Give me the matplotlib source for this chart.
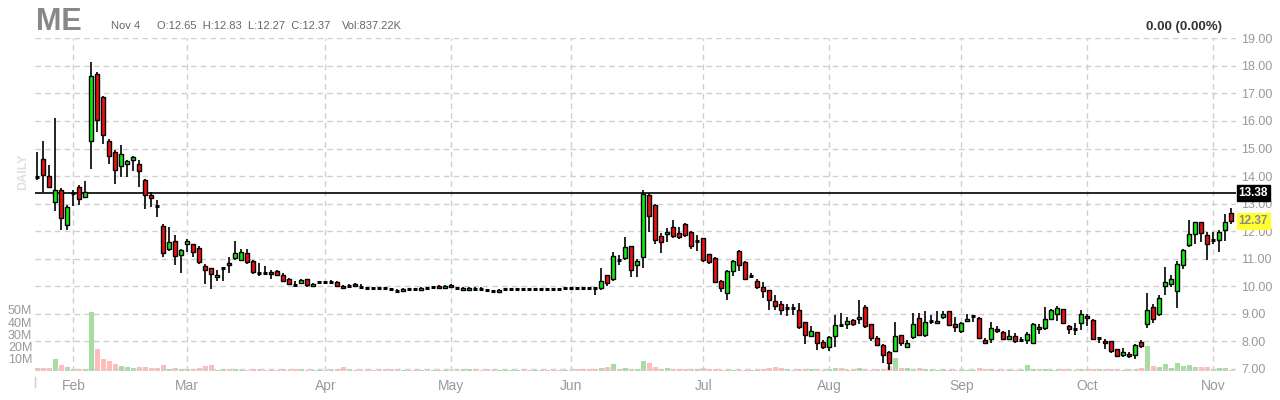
"""Daily candlestick chart for ME, Jan 22 - Nov 4 2021, with volume underlay."""
import numpy as np
import pandas as pd
import matplotlib
matplotlib.use("Agg")
import matplotlib.pyplot as plt
from matplotlib.lines import Line2D
from matplotlib.transforms import blended_transform_factory

plt.rcParams["font.family"] = ["Liberation Sans", "DejaVu Sans"]

TICKER = "ME"
HOLIDAYS = ["2021-02-15", "2021-04-02", "2021-05-31", "2021-07-05", "2021-09-06"]
DATES = pd.bdate_range("2021-01-22", "2021-11-04", freq="C", holidays=HOLIDAYS)

OPEN = [
    13.95, 14.63, 14.01, 13.07, 13.50, 12.23, 13.38, 13.61, 13.25, 15.29,
    17.71, 16.88, 15.29, 14.88, 14.38, 14.45, 14.59, 14.45, 13.87, 13.32,
    12.92, 12.20, 11.36, 11.65, 11.15, 11.54, 11.52, 11.40, 10.74, 10.67,
    10.33, 10.66, 10.85, 11.04, 10.96, 11.22, 10.93, 10.48, 10.48, 10.53,
    10.54, 10.42, 10.27, 10.03, 10.13, 10.27, 10.01, 10.15, 10.15, 10.17,
    10.16, 10.02, 10.00, 10.10, 9.99, 9.95, 9.95, 9.95, 9.93, 9.89,
    9.84, 9.84, 9.91, 9.91, 9.87, 9.94, 9.97, 10.02, 9.95, 10.06,
    9.95, 9.87, 9.87, 9.90, 9.90, 9.85, 9.82, 9.80, 9.89, 9.90,
    9.91, 9.91, 9.91, 9.92, 9.91, 9.91, 9.91, 9.91, 9.95, 9.95,
    9.95, 9.95, 9.95, 9.95, 9.95, 10.42, 10.26, 10.94, 11.04, 11.47,
    10.78, 11.07, 13.30, 12.96, 11.83, 11.91, 12.16, 11.94, 12.27, 11.98,
    11.64, 11.76, 11.18, 11.04, 10.20, 9.75, 10.56, 11.29, 10.89, 10.37,
    10.20, 9.98, 9.87, 9.48, 9.36, 9.22, 9.20, 9.15, 8.71, 8.20,
    8.35, 7.99, 7.81, 8.21, 8.60, 8.64, 8.79, 8.82, 9.26, 8.64,
    8.13, 7.88, 7.62, 7.66, 8.24, 7.81, 8.17, 8.86, 8.24, 8.73,
    8.68, 8.89, 9.09, 8.64, 8.39, 8.75, 8.93, 8.86, 8.06, 8.10,
    8.46, 8.35, 8.10, 8.20, 8.04, 8.06, 7.95, 8.53, 8.50, 8.83,
    9.00, 9.18, 8.57, 8.46, 8.68, 8.93, 8.79, 8.13, 8.02, 8.02,
    7.73, 7.52, 7.55, 7.52, 7.99, 8.64, 9.26, 9.00, 10.02, 10.09,
    9.84, 10.78, 11.51, 11.91, 12.34, 11.87, 11.67, 11.69, 12.06, 12.65,
]
HIGH = [
    14.87, 15.26, 14.41, 16.12, 13.56, 12.96, 13.48, 13.69, 13.83, 18.15,
    17.79, 16.92, 15.33, 14.96, 15.12, 14.58, 14.72, 14.59, 13.90, 13.43,
    13.14, 12.27, 12.16, 11.87, 11.36, 11.70, 11.54, 11.47, 10.82, 10.68,
    10.60, 10.70, 11.06, 11.65, 11.36, 11.36, 10.95, 10.85, 10.74, 10.58,
    10.58, 10.48, 10.31, 10.21, 10.26, 10.28, 10.12, 10.21, 10.21, 10.22,
    10.18, 10.06, 10.07, 10.11, 10.07, 9.99, 9.99, 9.99, 9.96, 9.94,
    9.90, 9.95, 9.94, 9.95, 9.99, 9.99, 10.01, 10.04, 10.06, 10.08,
    9.99, 9.97, 9.99, 9.96, 9.96, 9.89, 9.87, 9.90, 9.91, 9.93,
    9.93, 9.93, 9.93, 9.95, 9.93, 9.93, 9.93, 9.93, 9.97, 9.97,
    9.97, 9.97, 9.97, 9.99, 10.67, 10.42, 11.23, 11.14, 11.79, 11.48,
    10.98, 13.50, 13.38, 12.98, 11.94, 12.13, 12.42, 12.16, 12.31, 11.99,
    11.87, 11.77, 11.19, 11.05, 10.24, 10.60, 10.94, 11.30, 10.93, 10.49,
    10.27, 10.16, 9.88, 9.69, 9.48, 9.36, 9.37, 9.40, 8.72, 8.57,
    8.36, 8.06, 8.21, 8.97, 9.04, 8.89, 8.82, 9.51, 9.33, 8.65,
    8.21, 7.89, 7.66, 8.71, 8.25, 8.06, 9.04, 9.04, 9.11, 8.97,
    9.10, 9.11, 9.10, 8.89, 8.71, 9.00, 8.96, 8.87, 8.13, 8.71,
    8.57, 8.39, 8.42, 8.32, 8.17, 8.35, 8.68, 8.64, 9.26, 9.16,
    9.30, 9.19, 8.58, 8.68, 9.15, 9.00, 8.80, 8.17, 8.10, 8.03,
    7.74, 7.77, 7.62, 7.91, 8.06, 9.77, 9.37, 9.69, 10.71, 10.42,
    10.93, 11.34, 12.42, 12.35, 12.35, 11.98, 11.98, 12.06, 12.63, 12.83,
]
LOW = [
    13.87, 13.43, 13.55, 12.73, 12.05, 12.05, 12.90, 12.96, 13.24, 14.24,
    15.60, 15.17, 14.45, 13.72, 13.96, 13.96, 14.19, 13.61, 12.81, 12.89,
    12.51, 11.07, 11.29, 10.78, 10.49, 11.24, 11.06, 10.82, 10.09, 9.91,
    10.21, 10.21, 10.48, 10.96, 10.94, 10.82, 10.45, 10.36, 10.42, 10.28,
    10.36, 10.14, 10.03, 10.00, 10.07, 9.98, 10.00, 10.07, 10.11, 10.12,
    9.99, 9.90, 9.95, 9.99, 9.92, 9.92, 9.91, 9.91, 9.91, 9.85,
    9.78, 9.81, 9.88, 9.86, 9.85, 9.91, 9.93, 9.93, 9.93, 9.97,
    9.85, 9.85, 9.85, 9.82, 9.83, 9.79, 9.78, 9.78, 9.87, 9.88,
    9.90, 9.90, 9.90, 9.90, 9.90, 9.90, 9.90, 9.90, 9.93, 9.93,
    9.91, 9.93, 9.93, 9.68, 9.85, 10.02, 10.21, 10.76, 10.96, 10.33,
    10.33, 10.67, 11.98, 11.54, 11.22, 11.62, 11.76, 11.73, 11.80, 11.36,
    11.28, 10.90, 10.82, 10.14, 9.78, 9.51, 10.38, 10.56, 10.24, 10.31,
    9.91, 9.58, 9.15, 9.15, 8.97, 8.91, 8.96, 8.46, 7.91, 8.16,
    7.70, 7.74, 7.66, 7.81, 8.53, 8.46, 8.57, 8.64, 8.50, 8.02,
    7.84, 7.22, 6.98, 7.66, 7.84, 7.77, 8.10, 8.21, 8.17, 8.64,
    8.64, 8.83, 8.56, 8.35, 8.32, 8.71, 8.71, 8.10, 7.91, 7.95,
    8.32, 8.06, 8.06, 7.95, 7.99, 7.91, 7.95, 8.28, 8.42, 8.79,
    8.75, 8.64, 8.28, 8.24, 8.42, 8.57, 8.10, 7.95, 7.73, 7.59,
    7.48, 7.44, 7.41, 7.38, 7.77, 8.50, 8.67, 8.93, 9.69, 9.98,
    9.22, 10.64, 11.44, 11.55, 11.62, 10.96, 11.55, 11.25, 11.66, 12.27,
]
CLOSE = [
    13.95, 14.05, 13.61, 13.50, 12.49, 12.89, 13.38, 13.18, 13.42, 17.64,
    16.05, 15.50, 14.74, 14.23, 14.81, 14.56, 14.70, 14.19, 13.32, 13.21,
    12.92, 11.22, 11.62, 11.11, 11.33, 11.63, 11.24, 10.88, 10.59, 10.45,
    10.42, 10.66, 10.78, 11.22, 11.25, 10.89, 10.51, 10.48, 10.48, 10.43,
    10.42, 10.20, 10.09, 10.03, 10.24, 10.06, 10.09, 10.15, 10.15, 10.17,
    10.01, 9.93, 10.00, 10.02, 9.99, 9.95, 9.95, 9.95, 9.93, 9.89,
    9.84, 9.91, 9.91, 9.91, 9.95, 9.94, 9.97, 9.95, 10.02, 9.99,
    9.95, 9.95, 9.95, 9.90, 9.90, 9.85, 9.82, 9.87, 9.89, 9.90,
    9.91, 9.91, 9.91, 9.92, 9.91, 9.91, 9.91, 9.91, 9.95, 9.95,
    9.95, 9.95, 9.95, 9.95, 10.21, 10.13, 11.11, 10.94, 11.44, 10.60,
    10.93, 13.35, 12.56, 11.69, 11.62, 11.98, 11.83, 11.80, 11.87, 11.47,
    11.64, 10.96, 10.88, 10.15, 9.95, 10.56, 10.93, 10.78, 10.27, 10.37,
    9.98, 9.84, 9.51, 9.29, 9.15, 9.22, 9.20, 8.52, 8.24, 8.39,
    7.95, 7.81, 8.17, 8.60, 8.60, 8.75, 8.64, 8.89, 8.57, 8.13,
    7.88, 7.52, 7.22, 8.21, 7.95, 7.95, 8.64, 8.24, 8.71, 8.73,
    8.75, 8.98, 8.60, 8.53, 8.68, 8.83, 8.93, 8.13, 7.95, 8.50,
    8.39, 8.10, 8.20, 8.02, 8.04, 8.28, 8.64, 8.46, 8.83, 9.15,
    9.22, 8.68, 8.46, 8.46, 9.00, 8.86, 8.10, 8.13, 7.95, 7.66,
    7.48, 7.62, 7.48, 7.88, 7.84, 9.15, 8.82, 9.58, 10.16, 10.27,
    10.82, 11.33, 11.91, 12.34, 11.94, 11.55, 11.67, 11.98, 12.34, 12.37,
]
VOLUME_M = [
    2.2, 2.2, 2.2, 9.7, 4.7, 3.0, 2.0, 1.4, 1.4, 48.0,
    18.0, 9.7, 8.0, 5.5, 3.9, 3.0, 2.2, 3.0, 3.0, 2.2,
    2.2, 4.7, 1.4, 2.2, 1.4, 1.4, 0.8, 2.5, 4.2, 5.0,
    1.0, 1.7, 1.7, 1.7, 1.0, 1.0, 1.7, 1.7, 1.0, 1.0,
    1.0, 1.7, 1.0, 1.7, 1.7, 1.0, 1.0, 1.0, 1.0, 1.0,
    1.7, 3.3, 0.8, 0.8, 0.8, 1.7, 0.8, 0.8, 1.7, 1.7,
    0.8, 0.8, 0.5, 0.8, 0.8, 0.8, 0.8, 0.8, 0.8, 0.8,
    0.8, 1.7, 1.7, 0.8, 0.8, 1.7, 0.8, 0.8, 0.8, 0.8,
    0.8, 0.8, 0.8, 0.8, 0.8, 0.8, 0.8, 0.8, 0.8, 0.8,
    1.7, 1.7, 1.7, 1.7, 2.5, 3.3, 6.0, 1.7, 2.5, 1.7,
    1.7, 8.3, 6.5, 3.3, 1.7, 2.5, 1.7, 1.7, 1.7, 1.7,
    1.7, 2.5, 0.8, 1.7, 0.8, 0.8, 0.8, 0.8, 0.8, 0.8,
    0.8, 1.7, 2.5, 3.3, 2.5, 1.7, 0.8, 1.7, 1.7, 1.7,
    1.7, 0.8, 1.7, 2.5, 2.5, 0.8, 1.7, 2.5, 1.7, 0.8,
    1.7, 1.7, 4.2, 11.0, 2.5, 2.5, 1.7, 2.5, 1.7, 0.8,
    0.8, 1.7, 0.8, 0.8, 0.8, 0.8, 0.8, 2.5, 1.7, 1.7,
    0.8, 0.8, 1.7, 0.8, 0.8, 5.0, 1.7, 0.8, 1.7, 0.8,
    0.8, 1.7, 0.8, 0.8, 1.7, 1.7, 1.7, 1.7, 1.7, 1.7,
    1.7, 0.8, 1.7, 0.8, 2.5, 20.8, 4.2, 3.3, 6.0, 2.5,
    6.5, 4.2, 5.0, 3.3, 3.3, 3.3, 1.7, 2.5, 2.5, 0.84,
]

PRICE_TICKS = list(range(7, 20))
VOL_TICKS_M = [10, 20, 30, 40, 50]
LEVEL = 13.38
HEADER = "Nov 4"
OHLC_TEXT = "O:12.65  H:12.83  L:12.27  C:12.37"
VOL_TEXT = "Vol:837.22K"
CHANGE_TEXT = "0.00 (0.00%)"

GREEN, RED = "#11ee11", "#ee1111"
VGREEN, VPINK = "#a8dca0", "#ffbcbc"
GRID = "#cfcfcf"
LABEL = "#999999"

W, H = 1280, 400
fig = plt.figure(figsize=(W / 100, H / 100), dpi=100)
rect = [35 / W, 29 / H, 1201 / W, 332.7 / H]
axv = fig.add_axes(rect)
ax = fig.add_axes(rect)
ax.patch.set_alpha(0)

x = np.arange(len(DATES))
o, h, l, c = (np.array(a) for a in (OPEN, HIGH, LOW, CLOSE))
vol = np.array(VOLUME_M)
up, down, flat = c > o, c < o, c == o
prev = np.r_[c[0], c[:-1]]
vup = np.where(flat, c > prev, up)

# volume underlay
axv.bar(x, vol, width=0.82, color=np.where(vup, VGREEN, VPINK), linewidth=0)
axv.set_xlim(-0.4, 199.8)
axv.set_ylim(0, 272.7)
axv.set_yticks(VOL_TICKS_M)
axv.set_yticklabels([f"{v}M" for v in VOL_TICKS_M])
axv.tick_params(axis="y", length=0, pad=2, labelsize=9, labelcolor=LABEL)
axv.set_xticks([])
for s in axv.spines.values():
    s.set_visible(False)

# grid
for p in PRICE_TICKS:
    ax.axhline(p, color=GRID, lw=1, ls=(0, (4, 3)), zorder=0)
months = pd.Series(x, index=DATES).groupby(DATES.to_period("M")).first().iloc[1:]
for m in months.values:
    ax.axvline(m, color=GRID, lw=1, ls=(0, (4, 3)), zorder=0)

ax.axhline(LEVEL, color="black", lw=1.2, zorder=1.5)

# candles
bw = 0.66
ax.vlines(x, l, h, color="black", lw=1.2, zorder=2)
ax.bar(x[up], c[up] - o[up], bottom=o[up], width=bw, color=GREEN,
       edgecolor="black", linewidth=1, zorder=3)
ax.bar(x[down], o[down] - c[down], bottom=c[down], width=bw, color=RED,
       edgecolor="black", linewidth=1, zorder=3)
ax.hlines(c[flat], x[flat] - bw / 2, x[flat] + bw / 2, color="black", lw=2.2, zorder=3)

ax.set_xlim(-0.4, 199.8)
ax.set_ylim(6.927, 19.0)
ax.yaxis.tick_right()
ax.set_yticks(PRICE_TICKS)
ax.set_yticklabels([f"{p:.2f}" for p in PRICE_TICKS])
ax.tick_params(axis="y", length=0, pad=4, labelsize=9, labelcolor=LABEL)
ax.set_xticks(months.values)
ax.set_xticklabels([d.strftime("%b") for d in months.index.to_timestamp()])
ax.tick_params(axis="x", length=0, pad=6, labelsize=10, labelcolor=LABEL)
for s in ax.spines.values():
    s.set_visible(False)

# price markers on the right edge
tr = blended_transform_factory(ax.transAxes, ax.transData)
ax.text(1.002, LEVEL, f"{LEVEL:.2f}", transform=tr, ha="left", va="center",
        fontsize=8.5, fontweight="bold", color="white", zorder=5,
        bbox=dict(boxstyle="square,pad=0.15", fc="black", ec="black"))
ax.text(1.002, c[-1], f"{c[-1]:.2f}", transform=tr, ha="left", va="center",
        fontsize=8.5, fontweight="bold", color="#8a8a8a", zorder=5,
        bbox=dict(boxstyle="square,pad=0.15", fc="#ffff33", ec="#ffff33"))

# header
fig.text(36 / W, 1 - 30 / H, TICKER, fontsize=22, fontweight="bold", color="#888888", va="baseline")
fig.text(111 / W, 1 - 29 / H, HEADER, fontsize=8, color="#666666", va="baseline")
fig.text(157 / W, 1 - 29 / H, OHLC_TEXT, fontsize=8, color="#666666", va="baseline")
fig.text(342 / W, 1 - 29 / H, VOL_TEXT, fontsize=8, color="#666666", va="baseline")
fig.text(1222 / W, 1 - 30 / H, CHANGE_TEXT, fontsize=9.5, fontweight="bold", color="#333333",
         ha="right", va="baseline")
fig.text(23 / W, 1 - 172 / H, "DAILY", rotation=90, fontsize=9, fontweight="bold",
         color="#e0e0e0", ha="center", va="center")
fig.add_artist(Line2D([35 / W, 35 / W], [1 - 387 / H, 1 - 377 / H], color="#cccccc", lw=1))

fig.savefig("out.png", dpi=100)
